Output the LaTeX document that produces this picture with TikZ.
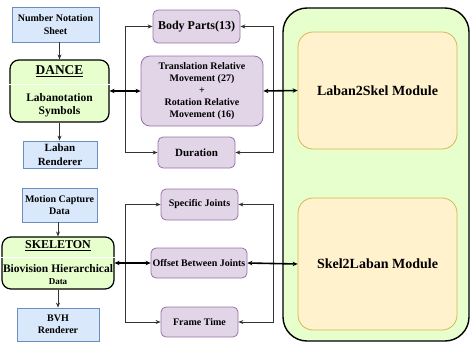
\documentclass[tikz,border=0pt]{standalone}
\usepackage{fontspec}
\setmainfont{Liberation Serif}
\usetikzlibrary{arrows.meta}
\definecolor{bluefill}{HTML}{DAE8FC}
\definecolor{blueline}{HTML}{6C8EBF}
\definecolor{purplefill}{HTML}{E1D5E7}
\definecolor{purpleline}{HTML}{9673A6}
\definecolor{yellowfill}{HTML}{FFF2CC}
\definecolor{yellowline}{HTML}{D6B656}
\definecolor{greenfill}{HTML}{E6FFCC}
\definecolor{linegray}{HTML}{333333}
\begin{document}
\begin{tikzpicture}[x=1pt, y=-1pt,
  bluebox/.style={draw=blueline, fill=bluefill, line width=0.8pt, inner sep=0pt, align=center, font=\bfseries\fontsize{10}{12.5}\selectfont},
  purplebox/.style={draw=purpleline, fill=purplefill, line width=0.8pt, rounded corners=5pt, inner sep=0pt, align=center, font=\bfseries\fontsize{10}{12}\selectfont},
  mainbox/.style={draw=black, fill=greenfill, line width=1.2pt, rounded corners=9pt, inner sep=0pt},
  modbox/.style={draw=yellowline, fill=yellowfill, line width=0.8pt, rounded corners=15pt, inner sep=0pt, align=center, font=\bfseries\fontsize{14}{16}\selectfont},
  title/.style={font=\bfseries\fontsize{12}{14}\selectfont, inner sep=0pt},
  body/.style={align=center, inner sep=0pt, font=\bfseries\fontsize{11.5}{13}\selectfont},
  divider/.style={white, line width=0.8pt},
  arrow/.style={-{Stealth[length=5pt, width=4pt]}, draw=linegray, line width=0.8pt},
  bigarrow/.style={{Stealth[length=5pt, width=4.5pt]}-{Stealth[length=5pt, width=4.5pt]}, black, line width=1.6pt}
]
\useasboundingbox (0,0) rectangle (470,343);

% Module container
\node[mainbox, rounded corners=24pt, line width=1.4pt, minimum width=186pt, minimum height=333pt] (container) at (376,174.5) {};
\node[modbox, minimum width=159pt, minimum height=117pt] (laban2skel) at (377.5,90.5) {Laban2Skel Module};
\node[modbox, minimum width=159pt, minimum height=132pt] (skel2laban) at (377.5,264) {Skel2Laban Module};

% Dance side
\node[bluebox, minimum width=87pt, minimum height=35pt] (notation) at (55.5,24.5) {Number Notation\\Sheet};
\node[mainbox, minimum width=99pt, minimum height=62pt] (dance) at (59.5,91) {};
\draw[divider] ([yshift=7pt]dance.west) -- ([yshift=7pt]dance.east);
\node[title, font=\bfseries\fontsize{13.4}{15}\selectfont] (dancetitle) at (59.5,71) {\underline{DANCE}};
\node[body] (dancetext) at (59.5,105) {Labanotation\\Symbols};
\node[bluebox, font=\bfseries\fontsize{11}{13.5}\selectfont, minimum width=74pt, minimum height=27pt] (labanrender) at (60,154.5) {Laban\\Renderer};

% Skeleton side
\node[bluebox, minimum width=75pt, minimum height=34pt] (mocap) at (59.5,205) {Motion Capture\\Data};
\node[mainbox, minimum width=112pt, minimum height=52pt] (skeleton) at (58,263) {};
\draw[divider] ([yshift=6pt]skeleton.west) -- ([yshift=6pt]skeleton.east);
\node[title] (skeltitle) at (58,246) {\underline{SKELETON}};
\node[body] (skeltext) at (58,269) {Biovision Hierarchical};
\node[inner sep=0pt, font=\bfseries\fontsize{9}{10}\selectfont] (skeldata) at (58,281.5) {Data};
\node[bluebox, minimum width=82pt, minimum height=33pt] (bvhrender) at (58,324.5) {BVH\\Renderer};

% Labanotation features
\node[purplebox, font=\bfseries\fontsize{12}{14}\selectfont, minimum width=87pt, minimum height=33pt] (bodyparts) at (196.5,26.5) {Body Parts(13)};
\node[purplebox, rounded corners=9pt, minimum width=122pt, minimum height=70pt] (relative) at (202,91) {Translation Relative\\Movement (27)\\+\\Rotation Relative\\Movement (16)};
\node[purplebox, font=\bfseries\fontsize{11}{13}\selectfont, minimum width=77pt, minimum height=31pt] (duration) at (196.5,152.5) {Duration};

% BVH features
\node[purplebox, minimum width=77pt, minimum height=31pt] (joints) at (199.5,204.5) {Specific Joints};
\node[purplebox, minimum width=96pt, minimum height=30pt] (offset) at (199,263) {Offset Between Joints};
\node[purplebox, minimum width=77pt, minimum height=30pt] (frametime) at (199.5,322) {Frame Time};

% Vertical arrows
\draw[arrow] (notation.south -| dance.north) -- (dance.north);
\draw[arrow] (dance.south) -- (labanrender.north -| dance.south);
\draw[arrow] (mocap.south -| skeleton.north) -- (skeleton.north);
\draw[arrow] (skeleton.south) -- (bvhrender.north -| skeleton.south);

% Brackets, top
\coordinate (lefttop) at (125,91);
\coordinate (righttop) at (273,91);
\draw[arrow] (lefttop) |- (bodyparts.west);
\draw[arrow] (lefttop) |- (duration.west);
\draw[arrow] (righttop) |- (bodyparts.east);
\draw[arrow] (righttop) |- (duration.east);
\draw[bigarrow] (dance.east) -- (relative.west);
\draw[bigarrow] (laban2skel.west) -- (relative.east);

% Brackets, bottom
\coordinate (leftbot) at (125,263);
\coordinate (rightbot) at (273,263);
\draw[arrow] (leftbot) |- (joints.west);
\draw[arrow] (leftbot) |- (frametime.west);
\draw[arrow] (rightbot) |- (joints.east);
\draw[arrow] (rightbot) |- (frametime.east);
\draw[bigarrow] (skeleton.east) -- (offset.west);
\draw[bigarrow] (skel2laban.west) -- (offset.east);

\end{tikzpicture}
\end{document}
